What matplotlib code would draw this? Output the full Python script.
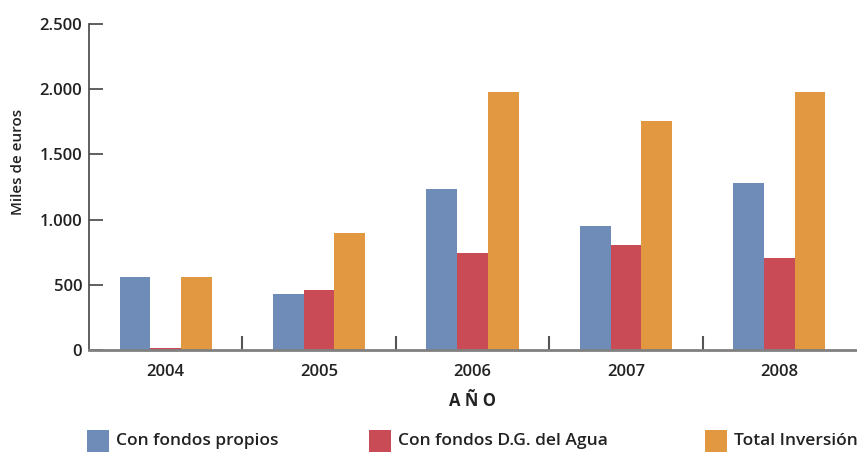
import numpy as np
import matplotlib.pyplot as plt
from matplotlib.patches import Rectangle

# inversión anual (miles de euros)
years = ['2004', '2005', '2006', '2007', '2008']
propios = [560, 430, 1235, 950, 1280]
dg_agua = [12, 460, 745, 805, 705]
total = [560, 900, 1977, 1755, 1977]

series_names = ['Con fondos propios', 'Con fondos D.G. del Agua', 'Total Inversión']
colors = ['#6F8BB8', '#C84B55', '#E19841']

plt.rcParams['font.family'] = ['Open Sans', 'DejaVu Sans']

fig = plt.figure(figsize=(8.57, 4.53), dpi=100)
ax = fig.add_axes([89 / 857, 1 - 350 / 453, 767 / 857, 326 / 453])

x = np.arange(len(years))
w = 0.2
for i, vals in enumerate([propios, dg_agua, total]):
    ax.bar(x + (i - 1) * w, vals, width=w, color=colors[i], linewidth=0, zorder=2)

ax.set_xlim(-0.5, len(years) - 0.5)
ax.set_ylim(0, 2500)
ax.set_yticks(np.arange(0, 2501, 500))
ax.set_yticklabels(['0', '500', '1.000', '1.500', '2.000', '2.500'])

# separadores entre años
ax.set_xticks(x[:-1] + 0.5)
ax.set_xticklabels([])
ax.set_xticks(x, minor=True)
ax.set_xticklabels(years, minor=True)
ax.tick_params(axis='x', which='major', direction='in', length=10, width=1.5, color='#555555')
ax.tick_params(axis='x', which='minor', length=0, pad=10, labelsize=12, labelcolor='#222222')
ax.tick_params(axis='y', direction='in', length=10, width=1.2, color='#444444',
               pad=5, labelsize=12, labelcolor='#222222')
for lab in ax.get_xticklabels(minor=True) + ax.get_yticklabels():
    lab.set_fontweight('semibold')

for s in ['top', 'right']:
    ax.spines[s].set_visible(False)
ax.spines['left'].set_color('#444444')
ax.spines['left'].set_linewidth(1.2)
ax.spines['bottom'].set_color('#808080')
ax.spines['bottom'].set_linewidth(2)

fig.text(18 / 857, 1 - 162 / 453, 'Miles de euros', rotation=90, fontsize=11,
         fontweight='semibold', color='#222222', ha='center', va='center')
ax.set_xlabel('A Ñ O', fontsize=12, fontweight='bold', color='#222222', labelpad=9)

# leyenda manual en una fila
legend_x = [87, 369, 705]
for lx, name, c in zip(legend_x, series_names, colors):
    fig.add_artist(Rectangle((lx / 857, 1 - 452 / 453), 22 / 857, 22 / 453,
                             transform=fig.transFigure, color=c, lw=0))
    fig.text((lx + 29) / 857, 1 - 441 / 453, name, fontsize=12.5, fontweight='semibold',
             color='#222222', va='center', ha='left')

fig.savefig('out.png', dpi=100)
